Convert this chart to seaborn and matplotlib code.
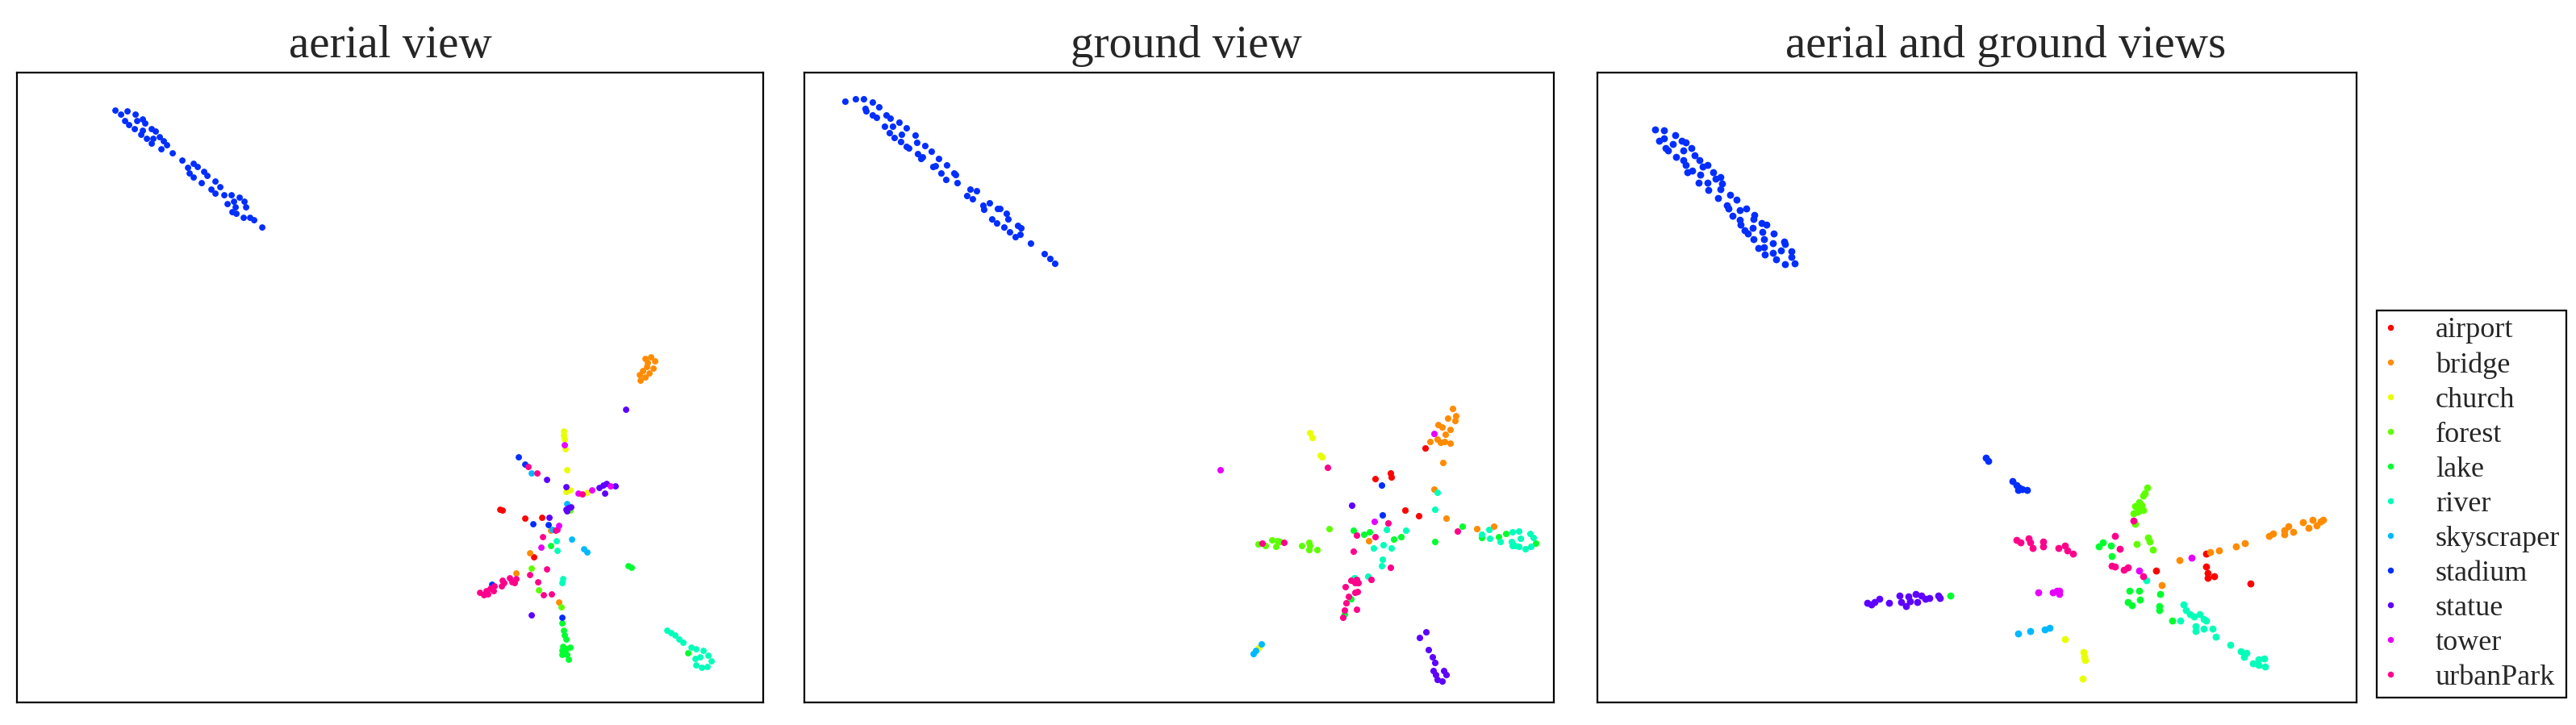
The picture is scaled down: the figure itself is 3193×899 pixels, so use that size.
import pandas as pd
import matplotlib.pyplot as plt
import seaborn as sns

# classes and colours (hsv wheel, 11 steps)
classes = ["airport", "bridge", "church", "forest", "lake", "river",
           "skyscraper", "stadium", "statue", "tower", "urbanPark"]
titles = ["aerial view", "ground view", "aerial and ground views"]

# 2-D embedding (dim1 right, dim2 down)
# ---- aerial view ----
aerial_airport = [(620, 632), (623, 633), (651, 643), (672, 642), (662, 691)]
aerial_bridge = [(800, 445), (807, 443), (812, 448), (810, 457), (805, 463), (800, 468), (794, 472),
                 (793, 465), (797, 460), (802, 455), (803, 450), (683, 658), (657, 686), (640, 711),
                 (693, 747)]
aerial_church = [(699, 535), (699, 540), (700, 545), (701, 557), (703, 583), (702, 610), (707, 608),
                 (728, 611)]
aerial_forest = [(707, 633), (659, 705), (668, 732), (696, 753)]
aerial_lake = [(683, 677), (779, 702), (783, 704), (853, 810), (697, 773), (699, 782), (700, 788),
               (702, 793), (698, 802), (697, 807), (702, 805), (707, 803), (703, 812), (705, 818),
               (697, 812)]
aerial_river = [(690, 671), (691, 683), (698, 718), (697, 723), (827, 782), (832, 785), (837, 788),
                (842, 793), (847, 797), (857, 803), (863, 805), (872, 807), (878, 813), (882, 820),
                (877, 827), (870, 828), (863, 825), (862, 817), (868, 815)]
aerial_skyscraper = [(659, 587), (703, 625), (685, 657), (709, 669), (724, 681), (728, 685)]
aerial_stadium = [(143, 137), (150, 142), (158, 138), (168, 142), (155, 150), (160, 155), (167, 160),
                  (170, 150), (177, 148), (180, 153), (177, 162), (175, 167), (188, 160), (193, 163),
                  (182, 172), (190, 172), (188, 178), (198, 170), (203, 175), (207, 180), (200, 185),
                  (214, 190), (226, 199), (240, 203), (245, 207), (233, 208), (235, 215), (240, 220),
                  (253, 213), (257, 218), (250, 227), (267, 225), (273, 232), (262, 235), (267, 240),
                  (278, 242), (287, 242), (297, 245), (303, 250), (305, 257), (290, 250), (282, 253),
                  (292, 257), (288, 263), (293, 265), (302, 270), (310, 270), (315, 273), (325, 282),
                  (643, 567), (651, 576), (661, 650), (680, 651), (610, 725), (697, 766)]
aerial_statue = [(776, 508), (678, 595), (702, 604), (743, 605), (748, 602), (752, 600), (763, 603),
                 (750, 612), (702, 632), (705, 630), (708, 629), (703, 634), (681, 642), (659, 763)]
aerial_tower = [(700, 552), (717, 612), (734, 608), (757, 603), (693, 652), (691, 657), (671, 679)]
aerial_urbanpark = [(655, 579), (666, 587), (722, 613), (689, 658), (673, 666), (678, 706), (657, 713),
                    (667, 722), (674, 738), (684, 737), (595, 735), (600, 738), (603, 733), (608, 730),
                    (613, 727), (612, 733), (605, 737), (622, 727), (625, 723), (623, 720), (632, 717),
                    (635, 722), (640, 718), (638, 723)]

# ---- ground view ----
ground_airport = [(1767, 556), (1705, 594), (1724, 587), (1725, 592), (1742, 633), (1759, 640)]
ground_bridge = [(1801, 507), (1805, 516), (1804, 522), (1795, 519), (1788, 530), (1783, 527),
                 (1798, 533), (1792, 539), (1773, 548), (1782, 545), (1786, 549), (1791, 548),
                 (1798, 550), (1789, 574), (1778, 607), (1793, 643), (1697, 671), (1831, 656),
                 (1852, 653)]
ground_church = [(1624, 537), (1627, 543), (1637, 565), (1639, 567), (1561, 803)]
ground_forest = [(1560, 675), (1569, 677), (1577, 670), (1582, 678), (1584, 671), (1587, 672),
                 (1614, 677), (1623, 673), (1623, 682), (1633, 682), (1624, 677), (1648, 656)]
ground_lake = [(1813, 653), (1678, 658), (1691, 663), (1698, 660), (1728, 669), (1737, 666),
               (1779, 672), (1904, 674), (1858, 666), (1867, 662), (1837, 667), (1675, 743),
               (1667, 762)]
ground_river = [(1782, 611), (1779, 632), (1719, 657), (1743, 658), (1715, 676), (1703, 680),
                (1725, 680), (1714, 694), (1713, 702), (1679, 717), (1696, 715), (1846, 657),
                (1837, 663), (1847, 668), (1860, 672), (1875, 660), (1883, 659), (1897, 662),
                (1901, 667), (1898, 678), (1891, 681), (1883, 678), (1875, 677), (1874, 672),
                (1885, 668), (1878, 677)]
ground_skyscraper = [(1564, 799), (1557, 807), (1554, 811)]
ground_stadium = [(1048, 126), (1061, 123), (1071, 123), (1082, 127), (1090, 133), (1073, 135),
                  (1074, 138), (1082, 143), (1087, 146), (1099, 143), (1104, 147), (1097, 157),
                  (1107, 157), (1115, 152), (1124, 159), (1103, 165), (1109, 171), (1118, 167),
                  (1117, 176), (1124, 182), (1127, 184), (1135, 168), (1137, 177), (1147, 181),
                  (1155, 188), (1138, 191), (1142, 197), (1144, 195), (1164, 197), (1157, 207),
                  (1160, 206), (1174, 205), (1167, 215), (1173, 223), (1183, 215), (1185, 217),
                  (1187, 227), (1203, 235), (1211, 237), (1199, 243), (1206, 247), (1219, 255),
                  (1227, 252), (1220, 260), (1237, 259), (1240, 259), (1248, 265), (1250, 272),
                  (1230, 272), (1236, 277), (1245, 282), (1252, 288), (1262, 280), (1266, 283),
                  (1265, 291), (1259, 294), (1278, 302), (1295, 315), (1302, 321), (1308, 327),
                  (1713, 602), (1714, 639)]
ground_statue = [(1676, 627), (1768, 784), (1760, 791), (1771, 806), (1776, 815), (1779, 822),
                 (1777, 832), (1790, 832), (1793, 837), (1788, 845), (1782, 843), (1780, 837)]
ground_tower = [(1778, 538), (1513, 583), (1704, 647)]
ground_urbanpark = [(1646, 580), (1721, 649), (1807, 659), (1682, 664), (1705, 666), (1678, 684),
                    (1724, 704), (1565, 674), (1592, 673), (1675, 720), (1682, 719), (1684, 723),
                    (1680, 723), (1668, 728), (1680, 735), (1683, 734), (1672, 740), (1669, 748),
                    (1667, 757), (1682, 756), (1665, 766), (1700, 719)]

# ---- aerial and ground views ----
both_airport = [(2673, 708), (2735, 687), (2735, 703), (2737, 717), (2745, 715), (2737, 711),
                (2790, 724)]
both_bridge = [(2702, 695), (2680, 726), (2740, 685), (2751, 683), (2772, 678), (2783, 674),
               (2813, 665), (2818, 662), (2832, 658), (2832, 663), (2837, 653), (2843, 660),
               (2855, 648), (2862, 655), (2867, 645), (2872, 652), (2877, 647), (2880, 645)]
both_church = [(2560, 793), (2583, 809), (2584, 815), (2585, 819), (2582, 842)]
both_forest = [(2662, 605), (2659, 612), (2657, 615), (2652, 623), (2655, 627), (2657, 633),
               (2650, 635), (2647, 628), (2645, 637), (2653, 630), (2647, 650), (2649, 675),
               (2663, 667), (2665, 672), (2669, 682)]
both_lake = [(2602, 678), (2607, 673), (2617, 677), (2618, 690), (2640, 733), (2652, 733),
             (2653, 744), (2638, 747), (2643, 751), (2678, 737), (2677, 752), (2677, 757),
             (2693, 770), (2418, 739)]
both_river = [(2661, 720), (2707, 750), (2710, 757), (2703, 770), (2715, 762), (2720, 765),
              (2727, 762), (2732, 768), (2735, 770), (2722, 777), (2722, 783), (2732, 780),
              (2743, 780), (2747, 790), (2765, 800), (2778, 808), (2785, 810), (2782, 815),
              (2793, 823), (2800, 818), (2807, 817), (2808, 827), (2800, 825)]
both_skyscraper = [(2502, 786), (2517, 783), (2535, 781), (2541, 779)]
both_stadium = [(2052, 161), (2063, 162), (2057, 175), (2063, 172), (2077, 168), (2074, 179),
                (2065, 184), (2068, 187), (2085, 175), (2090, 177), (2087, 187), (2097, 184),
                (2078, 195), (2087, 199), (2101, 193), (2107, 199), (2090, 205), (2092, 214),
                (2098, 212), (2111, 207), (2117, 205), (2108, 217), (2124, 214), (2127, 222),
                (2133, 220), (2135, 228), (2106, 227), (2117, 227), (2118, 236), (2133, 235),
                (2130, 246), (2145, 242), (2153, 248), (2141, 255), (2143, 259), (2157, 261),
                (2165, 259), (2148, 268), (2157, 273), (2175, 267), (2174, 272), (2158, 279),
                (2163, 286), (2173, 283), (2167, 290), (2184, 277), (2190, 279), (2185, 288),
                (2174, 297), (2187, 297), (2199, 290), (2198, 302), (2212, 300), (2213, 303),
                (2180, 308), (2187, 307), (2188, 316), (2198, 314), (2208, 311), (2221, 312),
                (2221, 319), (2202, 322), (2213, 328), (2225, 327),
                (2462, 568), (2465, 572), (2495, 597), (2500, 602), (2503, 605), (2507, 607),
                (2513, 608), (2502, 608)]
both_statue = [(2315, 748), (2320, 750), (2324, 747), (2330, 743), (2342, 748), (2355, 739),
               (2357, 747), (2363, 752), (2366, 740), (2368, 746), (2375, 737), (2377, 747),
               (2382, 739), (2387, 743), (2392, 742), (2403, 739), (2405, 742)]
both_tower = [(2652, 708), (2717, 692), (2527, 735), (2545, 735), (2550, 733), (2553, 737),
              (2553, 733)]
both_urbanpark = [(2500, 670), (2505, 673), (2515, 668), (2517, 673), (2520, 680), (2533, 672),
                  (2533, 678), (2552, 680), (2560, 677), (2563, 683), (2570, 687), (2645, 646),
                  (2622, 665), (2628, 681), (2618, 702), (2622, 703), (2633, 707), (2638, 704),
                  (2657, 715)]

aerial = [aerial_airport, aerial_bridge, aerial_church, aerial_forest, aerial_lake, aerial_river,
          aerial_skyscraper, aerial_stadium, aerial_statue, aerial_tower, aerial_urbanpark]
ground = [ground_airport, ground_bridge, ground_church, ground_forest, ground_lake, ground_river,
          ground_skyscraper, ground_stadium, ground_statue, ground_tower, ground_urbanpark]
both = [both_airport, both_bridge, both_church, both_forest, both_lake, both_river,
        both_skyscraper, both_stadium, both_statue, both_tower, both_urbanpark]


def to_frame(groups):
    rows = []
    for name, pts in zip(classes, groups):
        for x, y in pts:
            rows.append((x, y, name))
    return pd.DataFrame(rows, columns=["dim1", "dim2", "label"])


sns.set_style("white")
plt.rcParams['font.family'] = ['Liberation Serif', 'DejaVu Serif']

palette = sns.hls_palette(11, h=0, l=0.5, s=1)

fig = plt.figure(figsize=(31.93, 8.99), dpi=100)

# axes boxes (figure fractions) and x-ranges of each panel
boxes = [[0.0066, 0.0311, 0.2897, 0.8687],
         [0.3122, 0.0311, 0.2910, 0.8687],
         [0.6201, 0.0311, 0.2947, 0.8687]]
xranges = [(21, 946), (997, 1926), (1980, 2921)]
title_x = [0.5, 0.51, 0.538]
sizes = [32, 34, 40]

for i, groups in enumerate([aerial, ground, both]):
    ax = fig.add_axes(boxes[i])
    df = to_frame(groups)
    sns.scatterplot(data=df, x="dim1", y="dim2", hue="label", hue_order=classes,
                    palette=palette, s=sizes[i], linewidth=0, ax=ax, legend=(i == 2))
    ax.set_xlim(*xranges[i])
    ax.set_ylim(871, 90)
    ax.set_xticks([])
    ax.set_yticks([])
    ax.set_xlabel("")
    ax.set_ylabel("")
    for sp in ax.spines.values():
        sp.set_color("black")
        sp.set_linewidth(1.6)
    ax.set_title(titles[i], fontsize=41, pad=14, x=title_x[i])

    if i == 2:
        sns.move_legend(ax, "upper left", bbox_to_anchor=(1.0266, 0.6223), borderaxespad=0,
                        title=None, frameon=True, fancybox=False, edgecolor="black",
                        fontsize=26, labelspacing=0.27, handlelength=0.5, handletextpad=1.3,
                        borderpad=0.22, framealpha=1, markerscale=0.85)
        ax.get_legend().get_frame().set_linewidth(1.6)

fig.savefig("out.png", dpi=100)
